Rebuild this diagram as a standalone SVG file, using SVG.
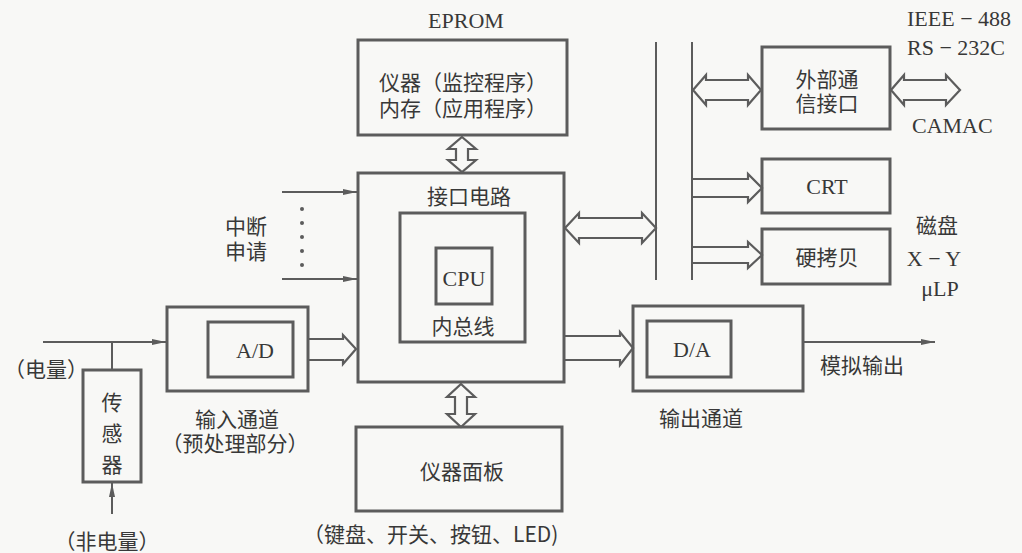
<svg xmlns="http://www.w3.org/2000/svg" width="1022" height="553" viewBox="0 0 1022 553">
<style>
.box{fill:none;stroke:#5c5c5c;stroke-width:3}
.ibox{fill:none;stroke:#5c5c5c;stroke-width:2.6}
.ln{fill:none;stroke:#5c5c5c;stroke-width:2}
.ha{fill:#f8f8f6;stroke:#5c5c5c;stroke-width:2.2;stroke-linejoin:miter}
text{font-family:"Liberation Serif","Noto Sans CJK SC",serif;font-size:22px;fill:#383838;dominant-baseline:central}
.zh{font-family:"Noto Sans CJK SC","Liberation Serif",sans-serif;font-size:21px}
.c{text-anchor:middle}
</style>
<defs>
<marker id="ah" viewBox="0 0 14 6" refX="14" refY="3" markerWidth="14" markerHeight="6" markerUnits="userSpaceOnUse" orient="auto">
<path d="M0,0 L14,3 L0,6 Z" fill="#5c5c5c"/>
</marker>
</defs>
<rect width="1022" height="553" fill="#f8f8f6"/>

<g id="connectors">
<line class="ln" x1="656" y1="42" x2="656" y2="280"/>
<line class="ln" x1="692" y1="42" x2="692" y2="280"/>
<line class="ln" x1="282" y1="192" x2="357" y2="192" marker-end="url(#ah)"/>
<line class="ln" x1="282" y1="279" x2="357" y2="279" marker-end="url(#ah)"/>
<g fill="#5c5c5c"><circle cx="302" cy="209" r="2"/><circle cx="302" cy="223" r="2"/><circle cx="302" cy="237" r="2"/><circle cx="302" cy="251" r="2"/><circle cx="302" cy="265" r="2"/></g>
<line class="ln" x1="43" y1="342" x2="166" y2="342" marker-end="url(#ah)"/>
<line class="ln" x1="112" y1="342" x2="112" y2="370"/>
<line class="ln" x1="112" y1="514" x2="112" y2="483" marker-end="url(#ah)"/>
<line class="ln" x1="803" y1="342" x2="935" y2="342" marker-end="url(#ah)"/>
<!-- interface <-> bus -->
<path class="ha" d="M565,228 L579,213 L579,218 L642,218 L642,213 L656,228 L642,243 L642,238 L579,238 L579,243 Z"/>
<!-- bus <-> comm -->
<path class="ha" d="M693,90 L706,75 L706,80 L748,80 L748,75 L761,90 L748,105 L748,100 L706,100 L706,105 Z"/>
<!-- comm <-> external -->
<path class="ha" d="M891,90 L904,75 L904,80 L946,80 L946,75 L960,90 L946,105 L946,100 L904,100 L904,105 Z"/>
<!-- bus -> CRT -->
<path class="ha" d="M693,179 L748,179 L748,174 L762,188 L748,202 L748,197 L693,197"/>
<!-- bus -> hardcopy -->
<path class="ha" d="M693,247 L748,247 L748,242 L762,255 L748,268 L748,263 L693,263"/>
<!-- A/D -> interface -->
<path class="ha" d="M309,339 L343,339 L343,335 L356,349 L343,364 L343,360 L309,360"/>
<!-- interface -> D/A -->
<path class="ha" d="M565,336 L620,336 L620,332 L633,348 L620,365 L620,360 L565,360"/>
<!-- memory <-> interface -->
<path class="ha" d="M462,137 L476,149 L468,149 L468,160 L476,160 L462,172 L448,160 L456,160 L456,149 L448,149 Z"/>
<!-- interface <-> panel -->
<path class="ha" d="M461,384 L475,397 L467,397 L467,414 L475,414 L461,427 L447,414 L455,414 L455,397 L447,397 Z"/>
</g>

<g id="memory">
<rect class="box" x="358" y="40" width="209" height="95"/>
<text class="zh c" x="463" y="81">仪器（监控程序）</text>
<text class="zh c" x="463" y="107">内存（应用程序）</text>
</g>
<text id="eprom-label" class="c" x="466" y="20">EPROM</text>

<g id="interface">
<rect class="box" x="358" y="173" width="206" height="209"/>
<text class="zh c" x="469" y="195">接口电路</text>
</g>
<g id="innerbus">
<rect class="box" x="400" y="213" width="125" height="129"/>
<text class="zh c" x="463" y="325">内总线</text>
</g>
<g id="cpu">
<rect class="box" x="436" y="248" width="56" height="56"/>
<text class="c" x="464" y="278">CPU</text>
</g>

<g id="interrupt-label">
<text class="zh c" x="246" y="225">中断</text>
<text class="zh c" x="246" y="250">申请</text>
</g>

<g id="input-channel">
<rect class="box" x="167" y="307" width="141" height="84"/>
<text class="zh c" x="237" y="418">输入通道</text>
<text class="zh c" x="235" y="442">（预处理部分）</text>
</g>
<g id="ad">
<rect class="box" x="208" y="322" width="85" height="55"/>
<text class="c" x="255" y="350">A/D</text>
</g>

<text id="elec-label" class="zh" x="4" y="368">（电量）</text>
<g id="sensor">
<rect class="box" x="83" y="370" width="58" height="112"/>
<text class="zh c" x="112" y="401">传</text>
<text class="zh c" x="112" y="432">感</text>
<text class="zh c" x="112" y="463">器</text>
</g>
<text id="nonelec-label" class="zh c" x="107" y="540">（非电量）</text>

<g id="output-channel">
<rect class="box" x="633" y="306" width="170" height="85"/>
<text class="zh c" x="701" y="417">输出通道</text>
</g>
<g id="da">
<rect class="box" x="647" y="321" width="84" height="56"/>
<text class="c" x="692" y="349">D/A</text>
</g>
<text id="analog-out" class="zh c" x="862" y="364">模拟输出</text>

<g id="panel">
<rect class="box" x="356" y="427" width="206" height="84"/>
<text class="zh c" x="462" y="470">仪器面板</text>
</g>
<text id="panel-label" class="zh" x="303" y="533">（键盘、开关、按钮、LED)</text>

<g id="comm">
<rect class="box" x="762" y="47" width="128" height="82"/>
<text class="zh c" x="827" y="78">外部通</text>
<text class="zh c" x="827" y="102">信接口</text>
</g>
<text x="907" y="18">IEEE − 488</text>
<text x="907" y="47">RS − 232C</text>
<text x="912" y="125">CAMAC</text>

<g id="crt">
<rect class="box" x="762" y="159" width="128" height="54"/>
<text class="c" x="827" y="186">CRT</text>
</g>
<g id="hardcopy">
<rect class="box" x="762" y="229" width="128" height="55"/>
<text class="zh c" x="827" y="256">硬拷贝</text>
</g>
<text class="zh c" x="937" y="224">磁盘</text>
<text class="c" x="934" y="258">X − Y</text>
<text class="c" x="940" y="288">μLP</text>
</svg>
